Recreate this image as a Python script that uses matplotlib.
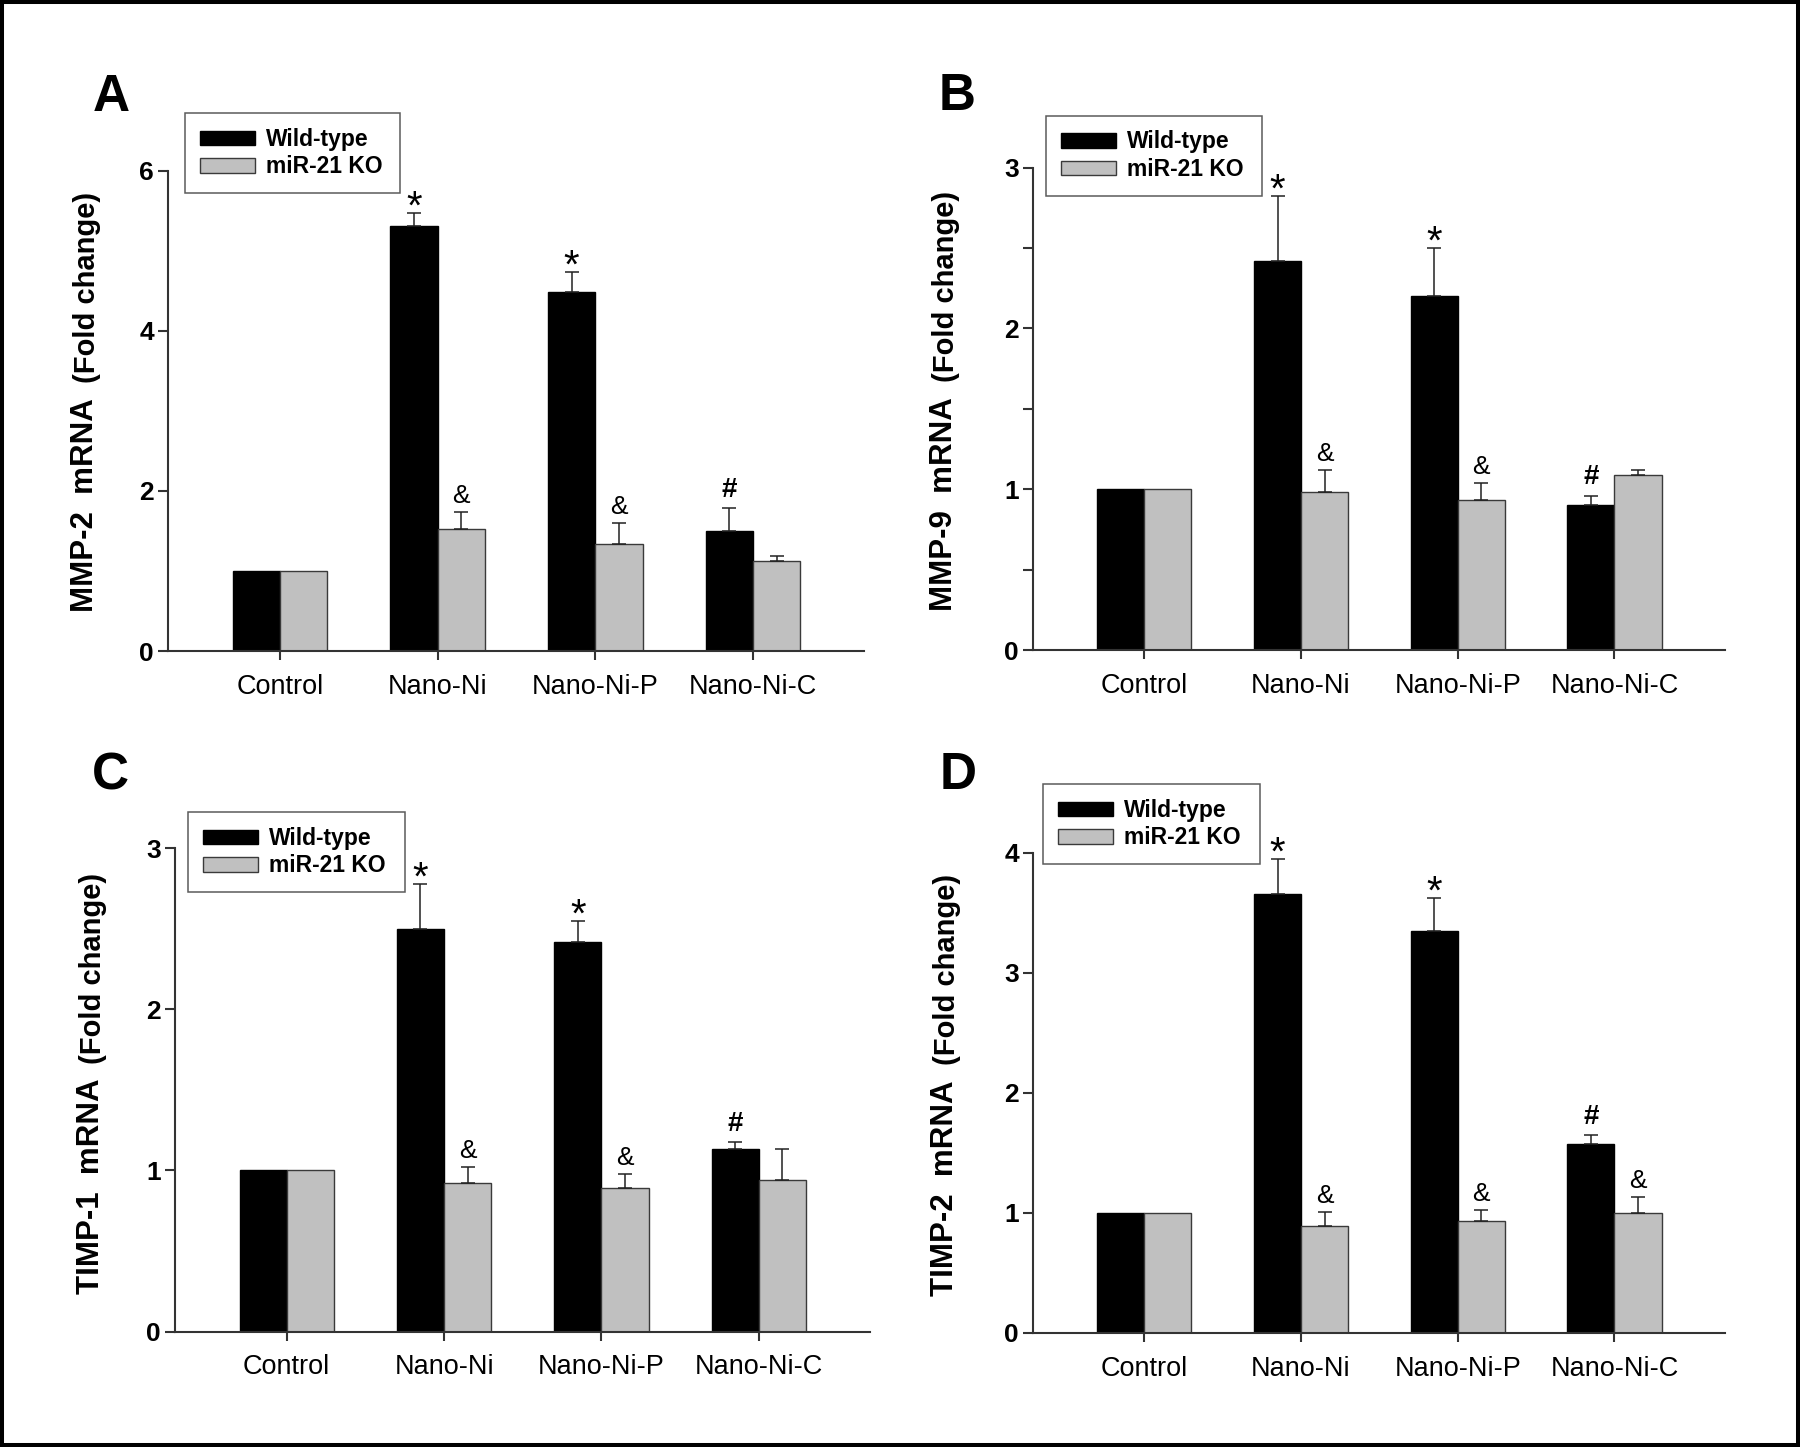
import numpy as np
import matplotlib.pyplot as plt
from matplotlib.patches import Patch, Rectangle

plt.rcParams['font.family'] = ['Liberation Sans', 'DejaVu Sans']

groups = ['Control', 'Nano-Ni', 'Nano-Ni-P', 'Nano-Ni-C']
series = ['Wild-type', 'miR-21 KO']

# MMP-2
mmp2_wt = [1.00, 5.31, 4.48, 1.50]
mmp2_wt_err = [0.0, 0.16, 0.25, 0.29]
mmp2_ko = [1.00, 1.52, 1.34, 1.12]
mmp2_ko_err = [0.0, 0.21, 0.26, 0.07]
# MMP-9
mmp9_wt = [1.00, 2.42, 2.20, 0.90]
mmp9_wt_err = [0.0, 0.40, 0.30, 0.06]
mmp9_ko = [1.00, 0.98, 0.93, 1.09]
mmp9_ko_err = [0.0, 0.14, 0.11, 0.03]
# TIMP-1
timp1_wt = [1.00, 2.50, 2.42, 1.13]
timp1_wt_err = [0.0, 0.28, 0.13, 0.045]
timp1_ko = [1.00, 0.92, 0.89, 0.94]
timp1_ko_err = [0.0, 0.10, 0.09, 0.19]
# TIMP-2
timp2_wt = [1.00, 3.66, 3.35, 1.57]
timp2_wt_err = [0.0, 0.29, 0.27, 0.08]
timp2_ko = [1.00, 0.89, 0.93, 1.00]
timp2_ko_err = [0.0, 0.12, 0.09, 0.13]

# significance marks
wt_marks = ['', '*', '*', '#']
ko_marks_abc = ['', '&', '&', '']
ko_marks_d = ['', '&', '&', '&']

W, H = 1800, 1447
fig = plt.figure(figsize=(18, 14.47), dpi=100)

# panel layout in pixels: left, right, top, bottom
panels = [
    dict(letter='A', gene='MMP-2', wt=mmp2_wt, wte=mmp2_wt_err, ko=mmp2_ko, koe=mmp2_ko_err,
         kom=ko_marks_abc, ticks=[0, 2, 4, 6], minor=[], box=(168, 864, 170.6, 651),
         letter_xy=(111, 111), ylab_x=85, leg=(185, 400, 113)),
    dict(letter='B', gene='MMP-9', wt=mmp9_wt, wte=mmp9_wt_err, ko=mmp9_ko, koe=mmp9_ko_err,
         kom=ko_marks_abc, ticks=[0, 1, 2, 3], minor=[0.5, 1.5, 2.5], box=(1033, 1725, 167.5, 650),
         letter_xy=(957, 110), ylab_x=944, leg=(1046, 1262, 115.5)),
    dict(letter='C', gene='TIMP-1', wt=timp1_wt, wte=timp1_wt_err, ko=timp1_ko, koe=timp1_ko_err,
         kom=ko_marks_abc, ticks=[0, 1, 2, 3], minor=[], box=(175, 869.7, 848.2, 1331.5),
         letter_xy=(110, 790), ylab_x=91, leg=(188, 405, 812)),
    dict(letter='D', gene='TIMP-2', wt=timp2_wt, wte=timp2_wt_err, ko=timp2_ko, koe=timp2_ko_err,
         kom=ko_marks_d, ticks=[0, 1, 2, 3, 4], minor=[], box=(1033, 1725, 852.7, 1332.9),
         letter_xy=(958, 789), ylab_x=945, leg=(1043, 1260, 784)),
]

gray = '#c0c0c0'
axcol = '#333333'
bw = 0.30
x = np.arange(len(groups))
mark_style = {'*': dict(size=29, weight='normal', off=-4.0),
              '&': dict(size=19, weight='normal', off=6.5),
              '#': dict(size=20, weight='bold', off=8.0)}

for p in panels:
    l, r, t, b = p['box']
    ax = fig.add_axes([l / W, 1 - b / H, (r - l) / W, (b - t) / H])
    ax.bar(x - bw / 2, p['wt'], bw, color='black', edgecolor='black', linewidth=1.0)
    ax.bar(x + bw / 2, p['ko'], bw, color=gray, edgecolor='#3a3a3a', linewidth=1.0)
    for xs, vals, errs in [(x - bw / 2, p['wt'], p['wte']), (x + bw / 2, p['ko'], p['koe'])]:
        vals = np.array(vals)
        errs = np.array(errs)
        m = errs > 0
        ax.errorbar(xs[m], vals[m], yerr=[np.zeros(m.sum()), errs[m]], fmt='none',
                    ecolor='#222222', elinewidth=1.1, capsize=4.7, capthick=1.1)
    for xs, vals, errs, marks in [(x - bw / 2, p['wt'], p['wte'], wt_marks),
                                  (x + bw / 2, p['ko'], p['koe'], p['kom'])]:
        for xi, v, e, s in zip(xs, vals, errs, marks):
            if not s:
                continue
            st = mark_style[s]
            ax.annotate(s, xy=(xi, v + e), xytext=(0, st['off']), textcoords='offset points',
                        ha='center', va='baseline', fontsize=st['size'], fontweight=st['weight'])

    ax.set_xlim(-0.71, 3.705)
    ax.set_ylim(0, p['ticks'][-1])
    ax.spines['top'].set_visible(False)
    ax.spines['right'].set_visible(False)
    for s in ['left', 'bottom']:
        ax.spines[s].set_color(axcol)
        ax.spines[s].set_linewidth(1.5)
    ax.set_xticks(x)
    ax.set_xticklabels(groups, fontsize=19.5)
    ax.set_yticks(p['ticks'])
    ax.set_yticklabels([str(v) for v in p['ticks']], fontsize=19, fontweight='bold')
    if p['minor']:
        ax.set_yticks(p['minor'], minor=True)
        ax.tick_params(axis='y', which='minor', length=7, width=1.5, color=axcol)
    ax.tick_params(axis='x', length=6.5, width=1.5, color=axcol, pad=10)
    ax.tick_params(axis='y', which='major', length=7, width=1.5, color=axcol, pad=3)
    ax.set_facecolor('none')

    # y label in two sizes
    fx = p['ylab_x'] / W
    fig.text(fx, 1 - (b - 253) / H, p['gene'] + '  mRNA', rotation=90, ha='center', va='top',
             fontsize=22.5, fontweight='bold')
    fig.text(fx + 2 / W, 1 - (b - 268) / H, '(Fold change)', rotation=90, ha='center', va='bottom',
             fontsize=21, fontweight='bold')

    # panel letter
    lx, ly = p['letter_xy']
    fig.text(lx / W, 1 - ly / H, p['letter'], ha='center', va='baseline', fontsize=37,
             fontweight='bold')

    # legend
    gl, gr, gt = p['leg']
    handles = [Patch(facecolor='black', edgecolor='black', linewidth=1.0),
               Patch(facecolor=gray, edgecolor='#3a3a3a', linewidth=1.0)]
    leg = fig.legend(handles, series, loc='upper left',
                     bbox_to_anchor=(gl / W, 1 - gt / H - 0.05, (gr - gl) / W, 0.05),
                     mode='expand', prop={'weight': 'bold', 'size': 16.5}, frameon=True,
                     fancybox=False, edgecolor=axcol, handlelength=2.4, handleheight=0.6,
                     handletextpad=0.5, borderpad=0.65, labelspacing=0.2, borderaxespad=0)
    leg.get_frame().set_linewidth(1.1)

fig.patches.append(Rectangle((2 / W, 2 / H), 1 - 4 / W, 1 - 4 / H, transform=fig.transFigure,
                             fill=False, edgecolor='black', linewidth=2.9))

fig.savefig('out.png', dpi=100, facecolor='white')
